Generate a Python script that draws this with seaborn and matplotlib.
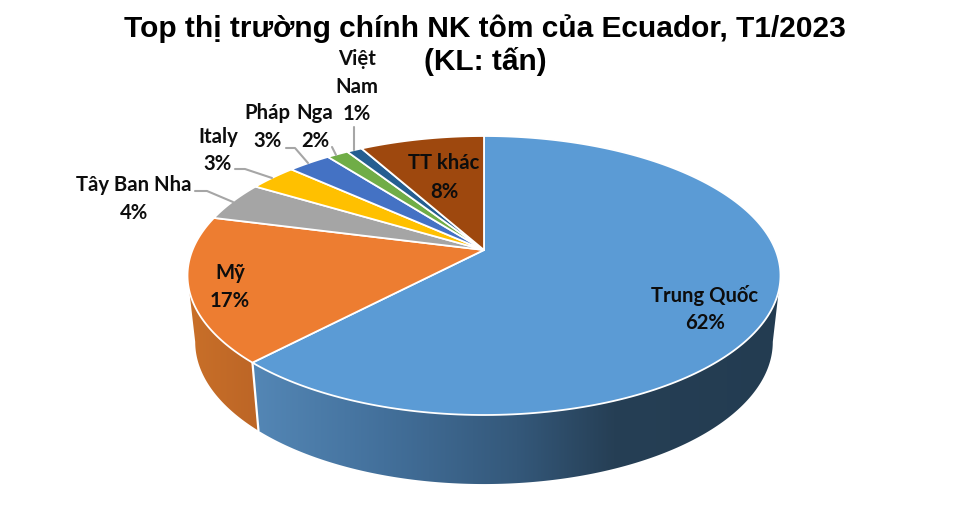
import numpy as np
import seaborn as sns
import matplotlib.pyplot as plt
from matplotlib.colors import LinearSegmentedColormap
from matplotlib.patches import Polygon

# Chart data (share of volume, %)
markets = ["Trung Quốc", "Mỹ", "Tây Ban Nha", "Italy", "Pháp", "Nga", "Việt\nNam", "TT khác"]
shares = [62.1, 16.9, 4.6, 3.1, 2.8, 1.4, 1.0, 8.1]
share_labels = ["62%", "17%", "4%", "3%", "3%", "2%", "1%", "8%"]
slice_colors = ["#5b9bd5", "#ed7d31", "#a5a5a5", "#ffc000", "#4472c4", "#70ad47", "#255e91", "#9e480e"]

# Layout, in pixels of the 971x526 picture
label_pos = [(705, 296), (230, 273), (134, 185), (218, 137), (267, 113), (315, 113), (357, 59), (444, 163)]
pct_pos = [(705, 323), (230, 301), (134, 213), (218, 164), (267, 141), (315, 141), (357, 114), (444, 192)]
leaders = [
    [(195, 191), (207, 191), (233, 202)],
    [(235, 169), (245, 169), (272, 178)],
    [(286, 148), (295, 148), (308, 163)],
    [(332, 147), (336, 155)],
    [(354, 127), (354, 150)],
]

CX, APEX_Y, RADIUS = 484.0, 250.0, 291.5
TILT, SLOPE = 0.1828, -89.14
WALL_SCALE, WALL_SCALE_Y, RIM_MID, WALL_MID = 0.974, 1.019, 275.5, 341.9


def rim(theta):
    """Tilted circle: theta is clockwise from 12 o'clock, result in pixels."""
    u, v = np.sin(theta), np.cos(theta)
    den = 1 + TILT * v
    return CX + RADIUS * u / den, (APEX_Y + SLOPE * v) / den


def lower_rim(theta):
    x, y = rim(theta)
    return CX + WALL_SCALE * (x - CX), WALL_MID + WALL_SCALE_Y * (y - RIM_MID)


sns.set_theme(style="white")
plt.rcParams["font.family"] = ["Lato", "Noto Sans", "DejaVu Sans"]
palette = sns.color_palette(slice_colors)

fig = plt.figure(figsize=(9.71, 5.26), dpi=100)
ax = fig.add_axes([0, 0, 1, 1])

edges = 2 * np.pi * np.cumsum([0] + shares) / sum(shares)

# Side wall, only the part turned towards the viewer
wall_from = np.arccos(-TILT)
wall_to = 2 * np.pi - wall_from
wall_maps = {
    0: (LinearSegmentedColormap.from_list(
        "blue_wall",
        [(0.0, "#5487b6"), (0.25, "#43709b"), (0.5, "#34587a"), (0.68, "#263f55"), (1.0, "#233c51")]),
        250, 785),
    1: (LinearSegmentedColormap.from_list("orange_wall", ["#c97029", "#bc6526"]), 185, 262),
}
gradient = np.linspace(0, 1, 256).reshape(1, -1)
for i, (cmap, x0, x1) in wall_maps.items():
    t = np.linspace(max(edges[i], wall_from), min(edges[i + 1], wall_to), 200)
    top_x, top_y = rim(t)
    low_x, low_y = lower_rim(t[::-1])
    outline = np.column_stack([np.r_[top_x, low_x], np.r_[top_y, low_y]])
    poly = Polygon(outline, closed=True, fc="none", ec="none")
    ax.add_patch(poly)
    img = ax.imshow(gradient, cmap=cmap, extent=[x0, x1, 490, 270], aspect="auto", zorder=1)
    img.set_clip_path(poly)

# White seam between the two walls
seam_x, seam_y = rim(edges[1])
low_seam_x, low_seam_y = lower_rim(edges[1])
ax.plot([seam_x, low_seam_x], [seam_y, low_seam_y], color="white", lw=1.6, zorder=2)

# Top face of the pie
for i, color in enumerate(palette):
    t = np.linspace(edges[i], edges[i + 1], 200)
    x, y = rim(t)
    ax.fill(np.r_[CX, x], np.r_[APEX_Y, y], facecolor=color, edgecolor="white", lw=1.3,
            joinstyle="round", zorder=3)

for pts in leaders:
    xs, ys = zip(*pts)
    ax.plot(xs, ys, color="#a6a6a6", lw=1.5, zorder=4)

LABEL_SIZE = 14.6
for name, pct, lp, pp in zip(markets, share_labels, label_pos, pct_pos):
    if "\n" in name:
        for k, part in enumerate(name.split("\n")):
            ax.text(lp[0], lp[1] + 28 * k, part, ha="center", va="center", fontsize=LABEL_SIZE,
                    fontweight="bold", color="#0d0d0d", zorder=5)
    else:
        ax.text(lp[0], lp[1], name, ha="center", va="center", fontsize=LABEL_SIZE,
                fontweight="bold", color="#0d0d0d", zorder=5)
    ax.text(pp[0], pp[1], pct, ha="center", va="center", fontsize=LABEL_SIZE,
            fontweight="bold", color="#0d0d0d", zorder=5)

title_font = ["Liberation Sans", "DejaVu Sans"]
ax.text(485, 29, "Top thị trường chính NK tôm của Ecuador, T1/2023", ha="center", va="center",
        fontsize=21.5, fontweight="bold", family=title_font, color="black")
ax.text(485, 62, "(KL: tấn)", ha="center", va="center",
        fontsize=21.5, fontweight="bold", family=title_font, color="black")

ax.set_xlim(0, 971)
ax.set_ylim(526, 0)
ax.axis("off")

fig.savefig("out.png", dpi=100, facecolor="white")
